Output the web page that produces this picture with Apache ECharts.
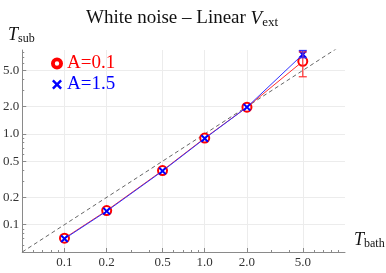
<!DOCTYPE html>
<html><head><meta charset="utf-8">
<script src="https://cdn.jsdelivr.net/npm/echarts@6/dist/echarts.min.js"></script>
<style>html,body{margin:0;padding:0;background:#fff}#c{width:386px;height:273px}</style>
</head><body><div id="c"></div>
<script>
// ---- data ----
const tBath = [0.1, 0.2, 0.5, 1.0, 2.0, 5.0];
const tSubA01 = [0.071, 0.143, 0.395, 0.90, 1.97, 6.3];
const tSubA15 = [0.070, 0.141, 0.390, 0.89, 1.97, 7.5];
const errX = [5.0];
const errA01Low = [4.26], errA01High = [8.0];
const errA15Low = [6.9], errA15High = [8.3];
const majorTicks = [0.1, 0.2, 0.5, 1.0, 2.0, 5.0];
const tickLabels = ['0.1', '0.2', '0.5', '1.0', '2.0', '5.0'];
const minorTicks = [0.06, 0.07, 0.08, 0.09, 0.3, 0.4, 0.6, 0.7, 0.8, 0.9, 3, 4, 6, 7, 8, 9];
const xRange = [0.05, 10];
const yRange = [0.05, 8.4];
const diagonal = [0.05, 10];

const L = Math.log10;
const FONT = 'Liberation Serif';
const crossPath = 'path://M-4,-2.6 L-2.6,-4 L0,-1.4 L2.6,-4 L4,-2.6 L1.4,0 L4,2.6 L2.6,4 L0,1.4 L-2.6,4 L-4,2.6 L-1.4,0 Z';
const ringPath = 'path://M0,-5 A5,5 0 1,1 0,5 A5,5 0 1,1 0,-5 Z M0,-3.2 A3.2,3.2 0 1,0 0,3.2 A3.2,3.2 0 1,0 0,-3.2 Z';

function labelFor(v) {
  for (let i = 0; i < majorTicks.length; i++) if (Math.abs(L(majorTicks[i]) - v) < 1e-6) return tickLabels[i];
  return '';
}
const majorLog = majorTicks.map(L);
const minorLog = minorTicks.map(L);

function mainAxis(range, isX) {
  return {
    type: 'value', min: L(range[0]), max: L(range[1]), position: isX ? 'bottom' : 'left',
    axisLine: { show: true, onZero: false, lineStyle: { color: '#8a8a8a', width: 1 } },
    axisTick: { show: true, inside: true, length: 4, customValues: majorLog, lineStyle: { color: '#8a8a8a' } },
    axisLabel: { show: true, customValues: majorLog, formatter: labelFor, color: '#333', fontFamily: FONT, fontSize: 13, margin: isX ? 4 : 3 },
    splitLine: { show: true, lineStyle: { color: '#ececec', width: 1 } }
  };
}
function minorAxis(range, isX) {
  return {
    type: 'value', min: L(range[0]), max: L(range[1]), position: isX ? 'bottom' : 'left', offset: 0,
    axisLine: { show: false, onZero: false },
    axisTick: { show: true, inside: true, length: 2, customValues: minorLog, lineStyle: { color: '#8a8a8a' } },
    axisLabel: { show: false }, splitLine: { show: false }
  };
}

function errSeries(name, color, xs, lo, hi) {
  return {
    type: 'custom', name: name, z: 5, silent: true,
    data: xs.map((x, i) => [L(x), L(lo[i]), L(hi[i])]),
    renderItem: function (params, api) {
      const p1 = api.coord([api.value(0), api.value(1)]);
      const p2 = api.coord([api.value(0), api.value(2)]);
      const w = 4;
      const st = { stroke: color, lineWidth: 1.2 };
      return { type: 'group', children: [
        { type: 'line', shape: { x1: p1[0], y1: p1[1], x2: p2[0], y2: p2[1] }, style: st },
        { type: 'line', shape: { x1: p1[0] - w, y1: p1[1], x2: p1[0] + w, y2: p1[1] }, style: st },
        { type: 'line', shape: { x1: p2[0] - w, y1: p2[1], x2: p2[0] + w, y2: p2[1] }, style: st }
      ]};
    }
  };
}

const chart = echarts.init(document.getElementById('c'), null, { renderer: 'canvas' });
chart.setOption({
  animation: false,
  backgroundColor: '#fff',
  title: {
    text: '{a|White noise – Linear }{v|V}{s|ext}',
    left: 81, top: 3,
    textStyle: {
      fontWeight: 'normal',
      rich: {
        a: { fontFamily: FONT, fontSize: 19, fontWeight: 'normal', color: '#111' },
        v: { fontFamily: FONT, fontSize: 19, fontWeight: 'normal', fontStyle: 'italic', color: '#111' },
        s: { fontFamily: FONT, fontSize: 13, fontWeight: 'normal', color: '#111', padding: [8, 0, 0, 0] }
      }
    }
  },
  grid: { left: 22, right: 41, top: 50, bottom: 21, containLabel: false },
  legend: {
    orient: 'vertical', left: 46, top: 49, itemWidth: 10, itemHeight: 10, itemGap: 2,
    textStyle: { fontFamily: FONT, fontSize: 19 },
    data: [
      { name: 'A=0.1', icon: ringPath, textStyle: { color: '#ff0000' } },
      { name: 'A=1.5', icon: crossPath, textStyle: { color: '#0000ff' } }
    ]
  },
  xAxis: [mainAxis(xRange, true), minorAxis(xRange, true)],
  yAxis: [mainAxis(yRange, false), minorAxis(yRange, false)],
  graphic: [
    { type: 'text', left: 8, top: 26, style: { rich: {
        t: { fontFamily: FONT, fontSize: 18, fontStyle: 'italic', fill: '#111' },
        s: { fontFamily: FONT, fontSize: 12, fill: '#111', padding: [7, 0, 0, 0] } },
      text: '{t|T}{s|sub}' } },
    { type: 'text', left: 354, top: 231, style: { rich: {
        t: { fontFamily: FONT, fontSize: 18, fontStyle: 'italic', fill: '#111' },
        s: { fontFamily: FONT, fontSize: 12, fill: '#111', padding: [7, 0, 0, 0] } },
      text: '{t|T}{s|bath}' } }
  ],
  series: [
    {
      type: 'line', name: 'diag', silent: true, symbol: 'none', z: 1,
      data: diagonal.map(v => [L(v), L(v)]),
      lineStyle: { color: '#666', width: 1, type: [4, 3] }, clip: true
    },
    {
      type: 'line', name: 'A=0.1', z: 3,
      data: tBath.map((x, i) => [L(x), L(tSubA01[i])]),
      symbol: 'emptyCircle', symbolSize: 9,
      lineStyle: { color: '#ff3030', width: 1 },
      itemStyle: { color: '#ff0000', borderColor: '#ff0000', borderWidth: 2 }
    },
    {
      type: 'line', name: 'A=1.5', z: 4,
      data: tBath.map((x, i) => [L(x), L(tSubA15[i])]),
      symbol: crossPath, symbolSize: 8,
      lineStyle: { color: '#3030ff', width: 1 },
      itemStyle: { color: '#0000ff' }
    },
    errSeries('errA01', '#ff3030', errX, errA01Low, errA01High),
    errSeries('errA15', '#3030ff', errX, errA15Low, errA15High)
  ]
});
</script></body></html>
